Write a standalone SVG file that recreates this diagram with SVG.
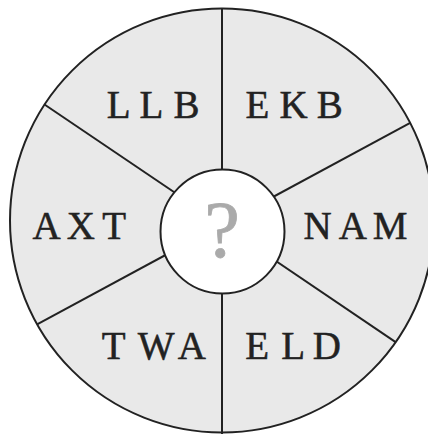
<svg xmlns="http://www.w3.org/2000/svg" width="428" height="434" viewBox="0 0 428 434">
<style>
.lbl{font-family:"Liberation Serif","DejaVu Serif",serif;font-size:39px;fill:#222;stroke:#222;stroke-width:0.5}
.ln{stroke:#222;stroke-width:2;fill:none}
</style>
<rect width="428" height="434" fill="#ffffff"/>
<g id="wheel">
<circle cx="222" cy="220.5" r="212" fill="#e9e9e9"/>
</g>
<g id="connectors">
<line class="ln" x1="222" y1="224.5" x2="222" y2="8"/>
<line class="ln" x1="222" y1="224.5" x2="222" y2="434"/>
<line class="ln" x1="222" y1="224.5" x2="44.5" y2="104.5"/>
<line class="ln" x1="222" y1="224.5" x2="410.2" y2="122.9"/>
<line class="ln" x1="222" y1="224.5" x2="37.1" y2="324.3"/>
<line class="ln" x1="222" y1="224.5" x2="396" y2="342.3"/>
</g>
<g id="rim">
<circle class="ln" cx="222" cy="220.5" r="212"/>
</g>
<g id="center">
<circle cx="222.5" cy="231.5" r="62" fill="#ffffff" stroke="#222" stroke-width="2"/>
<text x="222" y="257" text-anchor="middle" style="font-family:'Liberation Serif','DejaVu Serif',serif;font-size:80px;fill:#aaaaaa;stroke:#aaaaaa;stroke-width:0.8">?</text>
</g>
<g id="LLB"><text class="lbl" x="106.8 139.5 173.5" y="118.3">LLB</text></g>
<g id="EKB"><text class="lbl" x="245.5 279.5 316.8" y="118.3">EKB</text></g>
<g id="AXT"><text class="lbl" x="32.5 66.8 102.2" y="239">AXT</text></g>
<g id="NAM"><text class="lbl" x="303.5 338.8 372.8" y="239">NAM</text></g>
<g id="TWA"><text class="lbl" x="101.8 137.8 177.8" y="359.3">TWA</text></g>
<g id="ELD"><text class="lbl" x="245.2 281.2 312.8" y="359.3">ELD</text></g>
</svg>
